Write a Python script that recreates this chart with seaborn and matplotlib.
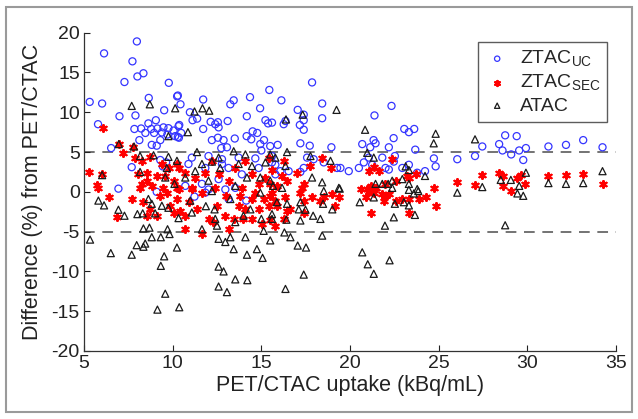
import matplotlib
matplotlib.use("Agg")
import matplotlib.pyplot as plt
from matplotlib.patches import Rectangle
import seaborn as sns

# ZTAC_UC (blue circles)
uc_x = [7.98, 6.13, 7.73, 8.35, 8.01, 7.28, 9.78, 10.25, 5.32, 6.02, 8.65, 9.52, 7.9, 7.0,
        5.79, 9.05, 8.63, 7.84, 8.22, 8.79, 9.14, 9.48, 9.76, 10.05, 10.33, 8.46, 8.95, 9.39,
        9.7, 10.14, 8.12, 9.3, 8.82, 9.1, 10.35, 6.53, 7.69, 6.94, 9.3, 9.63, 9.44,
        15.45, 10.29, 10.44, 11.72, 13.25, 13.44, 14.36, 14.93, 10.97, 11.38, 11.12, 10.37,
        12.14, 12.4, 12.55, 12.59, 13.1, 14.18, 15.23, 15.38, 11.72, 10.48, 10.29, 14.51,
        14.77, 14.17, 14.43, 12.21, 12.55, 12.87, 13.5, 15.15, 14.94, 15.5, 15.0, 12.74,
        13.06, 11.08, 12.02, 12.78, 13.72, 14.66, 15.6, 10.89, 11.84, 12.78, 13.15, 14.85,
        15.6, 11.65, 13.9, 12.59,
        17.86, 16.13, 18.43, 17.05, 17.39, 17.39, 17.17, 17.39, 18.43, 16.36, 16.26, 15.6,
        15.92, 17.2, 17.73, 18.95, 20.69, 15.79, 15.79, 16.07, 16.54, 17.2, 17.39, 17.58,
        17.95, 18.52, 19.27, 19.46, 20.5, 20.78, 21.06, 19.93,
        22.34, 21.38, 23.06, 23.32, 23.62, 22.46, 21.33, 21.44, 21.14, 22.19, 23.68, 21.82,
        22.53, 22.47, 21.25, 22.0, 22.19, 22.95, 23.32, 23.79, 24.23, 24.73, 24.83, 26.05,
        27.05, 27.46, 28.41, 28.75, 28.6, 29.09, 29.4, 29.54, 29.92, 29.77, 31.19, 32.18,
        33.15, 34.24,
        9.1, 10.71, 11.23, 11.84, 13.15, 14.15, 13.53, 12.02, 12.97]
uc_y = [18.9, 17.4, 16.4, 14.9, 14.5, 13.8, 13.7, 12.0, 11.3, 11.1, 11.8, 10.25, 9.6, 9.5,
        8.5, 9.0, 8.6, 7.9, 7.96, 7.9, 7.96, 8.1, 8.0, 7.7, 8.25, 7.4, 7.4, 7.46,
        7.2, 7.0, 6.5, 6.5, 5.9, 5.8, 6.8, 5.5, 3.1, 0.4, 4.0, 3.7, 3.2,
        12.8, 12.1, 11.0, 11.6, 11.0, 11.5, 11.9, 10.5, 10.0, 9.2, 9.0, 8.4,
        8.8, 8.5, 8.75, 8.1, 8.9, 9.5, 9.0, 8.6, 7.9, 7.4, 6.9, 7.6,
        7.4, 7.0, 6.6, 6.5, 6.8, 6.5, 6.7, 6.5, 6.0, 5.75, 5.2, 5.5,
        5.6, 4.3, 4.5, 4.1, 4.3, 4.2, 4.5, 3.5, 3.0, 3.5, 3.0, 3.0,
        3.7, 1.0, 2.2, 1.6,
        13.75, 11.5, 11.1, 10.3, 9.7, 9.0, 8.4, 7.8, 9.25, 8.9, 8.5, 8.7,
        5.9, 6.1, 5.8, 5.6, 6.0, 3.4, 2.2, 2.6, 2.6, 2.5, 3.0, 4.3,
        4.1, 3.7, 3.0, 3.0, 3.0, 3.7, 4.3, 2.6,
        10.8, 9.6, 7.9, 7.5, 7.9, 6.75, 6.5, 6.1, 5.6, 5.6, 5.3, 4.3,
        4.5, 3.8, 3.4, 3.0, 2.8, 3.0, 3.4, 2.4, 2.6, 4.2, 3.2, 4.1,
        4.5, 5.7, 6.0, 7.1, 5.2, 4.7, 7.0, 5.2, 5.5, 4.0, 5.7, 5.9,
        6.5, 5.6,
        0.0, 0.75, -0.6, -0.1, -0.9, -1.1, 0.5, 0.3, 0.3]

# ZTAC_SEC (red asterisks)
sec_x = [6.09, 7.22, 6.96, 7.79, 5.3, 6.02, 5.75, 7.88, 8.26, 8.73, 9.39, 9.82, 10.24, 8.07,
         8.54, 9.1, 9.58, 10.05, 8.26, 8.82, 9.48, 10.24, 8.54,
         10.33, 10.71, 11.27, 11.84, 12.21, 12.59, 13.15, 13.53, 13.9, 14.47, 14.85, 15.23,
         15.6, 11.08, 12.4, 14.1, 15.41,
         16.26, 16.17, 16.45, 17.02, 17.77, 18.43, 18.9, 17.39, 15.5, 20.6, 20.97, 15.88,
         21.34, 21.06, 21.63, 22.38, 23.23, 23.7, 24.73, 26.05, 27.46, 27.05, 28.41, 28.6,
         29.44, 29.63, 29.88, 31.19, 32.18, 33.15, 34.24, 21.16, 22.0, 22.57, 23.32, 21.44,
         6.41, 7.69, 6.85, 8.35, 9.29, 9.67, 10.05, 8.73, 9.1, 9.86, 10.24, 5.81, 8.16, 8.54,
         10.42, 10.71, 11.08, 11.37, 11.65, 12.02, 12.5, 12.97, 13.15, 13.43, 13.72, 14.1,
         14.47, 14.66, 14.85, 15.13, 15.41, 15.6, 13.99, 13.0, 10.9, 12.3, 11.65, 13.81,
         14.47, 15.04, 15.5, 10.33, 10.71,
         15.5, 15.79, 15.88, 16.36, 16.45, 16.64, 16.26, 17.2, 17.3, 17.39, 17.86, 18.33,
         18.52, 19.0, 19.18, 19.37, 20.88, 15.79, 17.39,
         21.06, 21.34, 21.82, 22.0, 22.19, 21.91, 22.57, 22.95, 23.32, 23.89, 24.27, 24.83,
         23.32, 21.16, 28.6, 29.07]
sec_y = [8.0, 4.9, 6.0, 5.6, 2.5, 2.3, 0.9, 4.3, 3.9, 4.4, 3.5, 3.0, 3.5, 2.2,
         2.4, 2.0, 2.0, 1.4, 1.0, 0.75, 0.5, 0.5, 1.4,
         3.0, 2.4, 1.8, 2.4, 3.9, 2.2, 1.4, 3.0, 0.5, 2.2, 1.0, 1.8,
         2.8, 0.5, 0.5, 3.9, 4.3,
         3.9, 2.0, 1.4, 2.4, 3.25, 4.3, 3.0, 1.0, 1.0, 0.3, 0.3, 0.75,
         3.1, 2.6, 2.6, 4.1, 2.0, 2.2, 0.45, 1.2, 2.1, 0.9, 2.4, 2.0,
         1.8, 2.1, 1.0, 2.0, 2.1, 2.3, 1.0, 0.75, 1.0, 1.4, 1.8, 0.5,
         -0.6, -0.9, -3.1, -1.3, -0.5, -0.1, -2.6, -2.2, -3.0, -1.75, -0.9, 0.5, 0.5, -3.0,
         -2.4, -3.0, 0.3, -2.2, -0.1, -3.4, -1.75, -3.0, -4.7, -3.4, -1.75, -2.2,
         -0.9, -0.1, -2.2, -0.9, -1.75, -0.1, -3.4, -0.5, -1.3, -3.8, -5.3, -0.5,
         -3.4, -4.0, -3.6, 0.3, -4.7,
         -0.5, -1.1, -1.75, -0.7, -2.4, -2.2, -3.4, -0.1, 0.5, -1.1, -0.7, -1.1,
         -0.7, -0.3, -1.75, -0.7, -0.7, -4.25, -2.6,
         0.1, -0.1, -0.3, -0.5, -0.3, -1.1, -1.1, -0.9, -0.9, -0.9, -0.7, -1.75,
         -2.6, -2.6, 0.75, 0.1]

# ATAC (black triangles)
atac_x = [7.69, 8.71, 10.14, 9.76, 6.96, 7.82, 8.16, 8.92, 9.76, 10.24, 8.16, 6.02, 9.58,
          10.1, 9.67,
          11.23, 11.68, 12.06, 10.86, 11.37, 13.44, 14.1, 12.59, 11.65, 12.21, 12.68, 13.72,
          14.47, 15.23, 11.27, 10.71, 14.19, 14.94, 15.5, 12.02, 13.53,
          16.39, 17.33, 19.24, 20.85, 16.45, 17.77, 18.9, 15.5, 16.36, 15.79, 17.86, 18.43,
          19.37, 16.17, 15.66, 20.97,
          24.83, 24.72, 27.05, 21.34, 23.14, 23.32, 24.23, 29.92, 34.24, 21.44, 21.82, 22.15,
          22.38, 22.95, 23.32, 23.79, 27.46, 28.5, 29.07, 29.54, 31.19, 32.18, 33.15,
          5.81, 6.13, 6.94, 7.28, 8.01, 8.31, 8.63, 8.82, 9.01, 9.39, 9.76, 10.33, 8.35, 8.69,
          9.71, 9.82, 8.82, 9.33, 5.34, 7.97, 8.45, 8.35, 6.51, 7.69, 9.52, 9.33, 10.24,
          9.58, 9.14, 10.37,
          11.08, 11.87, 12.36, 12.4, 12.5, 13.25, 13.53, 13.99, 14.38, 15.0, 15.6, 15.13,
          15.5, 14.1, 13.25, 12.59, 12.97, 13.44, 14.75, 14.19, 15.07, 12.59, 12.87, 13.53,
          14.21, 12.59, 13.06, 11.65, 10.99, 12.21, 14.94,
          15.88, 16.45, 17.2, 17.11, 17.49, 17.92, 18.33, 17.2, 16.41, 15.6, 18.52, 18.48,
          19.0, 19.42, 20.55, 16.3, 16.64, 18.43, 17.05, 17.52, 20.69, 21.0, 17.39, 16.36,
          21.34, 22.38, 22.53, 23.04, 23.32, 23.32, 23.6, 23.85, 23.66, 22.47, 21.97, 26.05,
          29.44, 29.77, 28.75, 21.34, 22.23]
atac_y = [10.8, 11.0, 10.5, 7.0, 6.0, 5.7, 4.5, 4.6, 4.4, 3.9, 2.5, 2.1, 1.8,
          1.0, 3.0,
          10.1, 10.5, 10.2, 7.5, 5.0, 5.1, 4.7, 4.3, 3.5, 3.8, 3.0, 3.5,
          3.25, 3.7, 2.6, 1.8, 1.8, 1.8, 1.4, 1.4, 0.75,
          9.1, 9.7, 10.3, 7.8, 5.0, 4.5, 3.9, 4.7, 3.25, 4.3, 1.8, 1.2,
          0.5, 0.5, 0.75, 4.9,
          7.3, 6.1, 6.6, 4.3, 3.2, 2.75, 2.0, 2.4, 2.6, 1.0, 1.0, 1.0,
          1.4, 1.6, 1.0, 0.35, 0.6, 1.5, 1.5, 0.75, 1.1, 1.0, 1.1,
          -1.1, -1.7, -2.25, -3.0, -2.8, -2.7, -0.9, -1.5, -2.7, -1.75, -2.0, -3.3, -4.6, -4.5,
          -4.7, -5.3, -5.7, -5.7, -6.0, -6.7, -6.5, -6.9, -7.7, -7.9, -8.1, -9.3, -7.0,
          -12.8, -14.8, -14.5,
          -2.6, -1.8, -2.2, -3.4, -4.25, -0.9, -3.8, -3.0, -2.2, -3.4, -3.4, -4.9,
          -6.1, -5.7, -5.7, -5.9, -6.3, -7.2, -7.2, -7.9, -8.3, -9.4, -10.0, -11.0,
          -11.1, -11.9, -12.6, -4.7, -1.1, 0.1, -0.1,
          -1.3, -1.5, -1.3, -2.2, -2.25, -3.0, -3.4, -3.6, -3.5, -2.8, 0.1, -1.5,
          -2.2, 0.4, -1.3, -5.1, -5.7, -5.5, -6.75, -7.0, -7.6, -9.1, -10.4, -12.2,
          -0.7, 0.5, -1.5, -1.3, -1.7, 0.25, -0.2, 0.1, -2.9, -3.2, -4.25, -0.1,
          -0.2, -0.5, -4.2, -10.3, -8.6]

x_ticks = [5, 10, 15, 20, 25, 30, 35]
y_ticks = [-20, -15, -10, -5, 0, 5, 10, 15, 20]

sns.set_style("ticks")
plt.rcParams["font.family"] = ["Liberation Sans", "DejaVu Sans"]
plt.rcParams["axes.unicode_minus"] = False

fig = plt.figure(figsize=(6.38, 4.19), dpi=100)
ax = fig.add_axes([0.1317, 0.1623, 0.8338, 0.7597])

# frame around the whole picture
fig.patches.append(Rectangle((0.009, 0.017), 0.982, 0.966, transform=fig.transFigure,
                             fill=False, edgecolor="#9a9a9a", linewidth=1.5))

sns.scatterplot(x=uc_x, y=uc_y, marker="o", s=26, facecolors="none", edgecolor="#3535ff",
                linewidth=0.9, label="ZTAC$_{\\mathregular{UC}}$", ax=ax)
sns.scatterplot(x=sec_x, y=sec_y, marker=(6, 2, 0), s=24, color="#ff0000",
                edgecolor="#ff0000", linewidth=1.6, label="ZTAC$_{\\mathregular{SEC}}$", ax=ax)
sns.scatterplot(x=atac_x, y=atac_y, marker="^", s=26, facecolors="none", edgecolor="#1a1a1a",
                linewidth=0.9, label="ATAC", ax=ax)

for yv in (5, -5):
    ax.axhline(yv, color="#4d4d4d", linewidth=1.1, linestyle=(0, (7, 5)), zorder=0)

ax.set_xlim(5, 35)
ax.set_ylim(-20, 20)
ax.set_xticks(x_ticks)
ax.set_yticks(y_ticks)
ax.tick_params(direction="in", length=4, width=0.8, labelsize=14, colors="#222222",
               pad=3)
sns.despine(ax=ax)
for sp in ("left", "bottom"):
    ax.spines[sp].set_color("#333333")
    ax.spines[sp].set_linewidth(0.9)

ax.set_xlabel("PET/CTAC uptake (kBq/mL)", fontsize=15.5, labelpad=2, color="#222222")
ax.set_ylabel("Difference (%) from PET/CTAC", fontsize=15.5, labelpad=6, color="#222222")

leg = ax.legend(loc="upper right", bbox_to_anchor=(607 / 638, 1 - 42 / 419),
                bbox_transform=fig.transFigure, borderaxespad=0, fontsize=14,
                frameon=True, fancybox=False, markerscale=0.75, handletextpad=0.5,
                borderpad=0.35, labelspacing=0.2, handlelength=1.3)
leg.get_frame().set_edgecolor("#333333")
leg.get_frame().set_linewidth(1.0)

fig.savefig("out.png", dpi=100)
